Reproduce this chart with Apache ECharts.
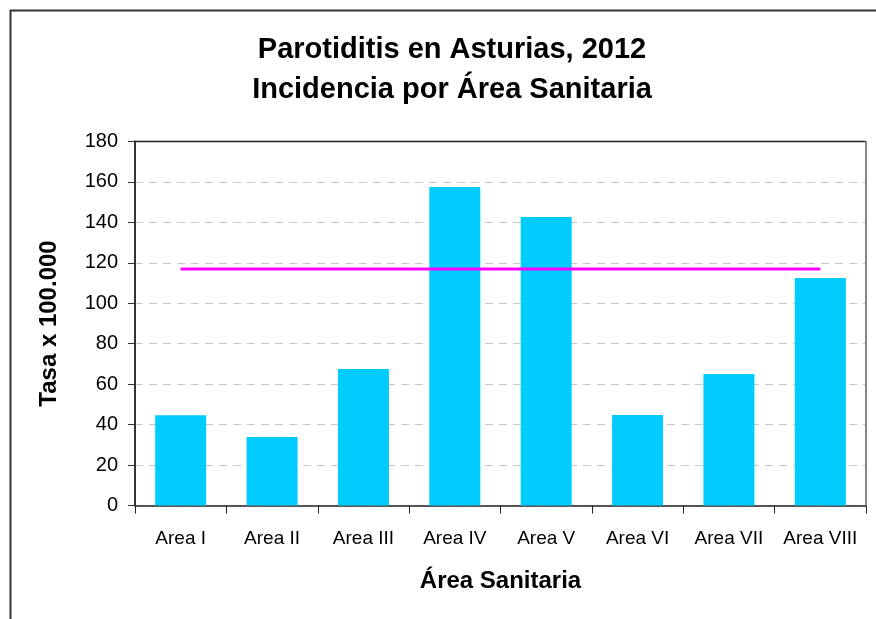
<!DOCTYPE html>
<html>
<head>
    <meta charset="utf-8">
    <script src="https://cdn.jsdelivr.net/npm/echarts@6/dist/echarts.min.js"></script>
    <style>
        html, body { margin: 0; padding: 0; background: #fff; }
    </style>
</head>
<body>
    <div id="main" style="width: 876px;height:619px"></div>
    <script type="text/javascript">
        // datos
        var areas = ['Area I', 'Area II', 'Area III', 'Area IV', 'Area V', 'Area VI', 'Area VII', 'Area VIII'];
        var tasas = [44.6, 33.9, 67.5, 157.5, 142.7, 44.7, 65.0, 112.5];
        var tasaAsturias = [117, 117, 117, 117, 117, 117, 117, 117];

        var myChart = echarts.init(document.getElementById('main'));

        var option = {
            animation: false,
            textStyle: { fontFamily: 'Liberation Sans' },
            title: {
                text: 'Parotiditis en Asturias, 2012\nIncidencia por Área Sanitaria',
                left: 447,
                top: 25,
                textAlign: 'center',
                textStyle: {
                    fontSize: 29,
                    fontWeight: 'bold',
                    color: '#000',
                    lineHeight: 40
                }
            },
            graphic: [{
                type: 'rect',
                shape: { x: 10.5, y: 10.5, width: 900, height: 700 },
                style: { fill: 'none', stroke: '#333', lineWidth: 2 }
            }, {
                type: 'polyline',
                shape: { points: [[135, 141.5], [866, 141.5]] },
                style: { stroke: '#222', lineWidth: 1.5 },
                z: 10
            }, {
                type: 'polyline',
                shape: { points: [[866, 141], [866, 505]] },
                style: { stroke: '#888', lineWidth: 2 },
                z: 10
            }],
            grid: {
                left: 135,
                right: 10,
                top: 141.5,
                bottom: 113.5,
                containLabel: false
            },
            xAxis: {
                type: 'category',
                data: areas,
                name: 'Área Sanitaria',
                nameLocation: 'middle',
                nameGap: 64,
                nameTextStyle: { fontSize: 24, fontWeight: 'bold', color: '#000' },
                axisLine: { lineStyle: { color: '#222', width: 1.5 } },
                axisTick: { show: true, length: 8, alignWithLabel: false, lineStyle: { color: '#222' } },
                axisLabel: { fontSize: 19, color: '#000', margin: 24, interval: 0 }
            },
            yAxis: {
                type: 'value',
                min: 0,
                max: 180,
                interval: 20,
                name: 'Tasa x 100.000',
                nameLocation: 'middle',
                nameGap: 74,
                nameRotate: 90,
                nameTextStyle: { fontSize: 24, fontWeight: 'bold', color: '#000' },
                axisLine: { show: true, lineStyle: { color: '#333', width: 2 } },
                axisTick: { show: true, length: 7, lineStyle: { color: '#333' } },
                axisLabel: { fontSize: 20, color: '#000', margin: 17 },
                splitLine: { lineStyle: { color: '#c8c8c8', type: [8, 6], width: 1 } }
            },
            series: [{
                name: 'Tasa',
                type: 'bar',
                data: tasas,
                barWidth: 51,
                itemStyle: { color: '#00ccff' }
            }, {
                name: 'Asturias',
                type: 'line',
                data: tasaAsturias,
                symbol: 'none',
                lineStyle: { color: '#ff00ff', width: 3 }
            }]
        };

        myChart.setOption(option);
    </script>
</body>
</html>
